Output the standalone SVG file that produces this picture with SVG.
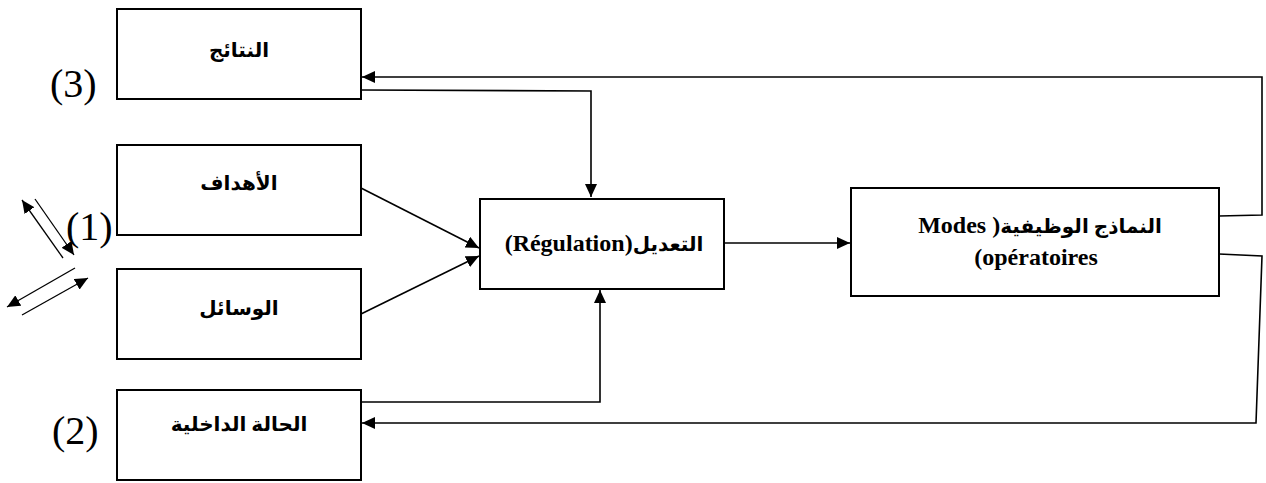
<svg xmlns="http://www.w3.org/2000/svg" width="1266" height="483" viewBox="0 0 1266 483">
<defs>
<marker id="ah" markerUnits="userSpaceOnUse" markerWidth="14" markerHeight="12" refX="13" refY="6" orient="auto">
<path d="M0,0 L13,6 L0,12 Z" fill="#000"/>
</marker>
<style>
.box{fill:#fff;stroke:#000;stroke-width:2}
.ar{font-family:"Liberation Serif","DejaVu Sans",serif;font-weight:bold;font-size:20px;fill:#000}
.la{font-size:24px}
.lbl{font-family:"Liberation Serif",serif;font-size:40px;fill:#000}
.c{fill:none;stroke:#000;stroke-width:1.6}
.t{fill:none;stroke:#000;stroke-width:1.3}
</style>
</defs>
<rect width="1266" height="483" fill="#fff"/>
<g id="connectors">
<polyline class="c" points="361,90 591,91 591,197" marker-end="url(#ah)"/>
<polyline class="c" points="1219,216 1262,215 1262,77 362,77" marker-end="url(#ah)"/>
<polyline class="c" points="1219,254 1262,256 1256,423 362,423" marker-end="url(#ah)"/>
<polyline class="c" points="361,402 600,402 600,290" marker-end="url(#ah)"/>
<line class="c" x1="724" y1="243" x2="850" y2="243" marker-end="url(#ah)"/>
<line class="c" x1="361" y1="188" x2="479" y2="248" marker-end="url(#ah)"/>
<line class="c" x1="361" y1="314" x2="479" y2="256" marker-end="url(#ah)"/>
<line class="t" x1="63" y1="258" x2="22" y2="200" marker-end="url(#ah)"/>
<line class="t" x1="35" y1="199" x2="74" y2="255" marker-end="url(#ah)"/>
<line class="t" x1="75" y1="268" x2="7" y2="307" marker-end="url(#ah)"/>
<line class="t" x1="22" y1="315" x2="88" y2="278" marker-end="url(#ah)"/>
</g>
<g id="n-results">
<rect class="box" x="117" y="9" width="244" height="90"/>
<text class="ar" x="239" y="57" text-anchor="middle" direction="rtl">النتائج</text>
</g>
<g id="n-goals">
<rect class="box" x="117" y="145" width="244" height="90"/>
<text class="ar" x="239" y="190" text-anchor="middle" direction="rtl">الأهداف</text>
</g>
<g id="n-means">
<rect class="box" x="117" y="269" width="244" height="90"/>
<text class="ar" x="239" y="315" text-anchor="middle" direction="rtl">الوسائل</text>
</g>
<g id="n-state">
<rect class="box" x="117" y="390" width="244" height="90"/>
<text class="ar" x="239" y="431" text-anchor="middle" direction="rtl">الحالة الداخلية</text>
</g>
<g id="n-regulation">
<rect class="box" x="480" y="199" width="244" height="90"/>
<text class="ar" x="604" y="251" text-anchor="middle" direction="rtl">التعديل<tspan class="la">(Régulation)</tspan></text>
</g>
<g id="n-modes">
<rect class="box" x="851" y="188" width="368" height="108"/>
<text class="ar" x="1040" y="233" text-anchor="middle" direction="rtl">النماذج الوظيفية<tspan class="la">( Modes</tspan></text>
<text class="ar la" x="1036" y="265" text-anchor="middle" direction="rtl">opératoires)</text>
</g>
<g id="labels">
<text class="lbl" x="50" y="97">(3)</text>
<text class="lbl" x="66" y="240">(1)</text>
<text class="lbl" x="52" y="444">(2)</text>
</g>
</svg>
